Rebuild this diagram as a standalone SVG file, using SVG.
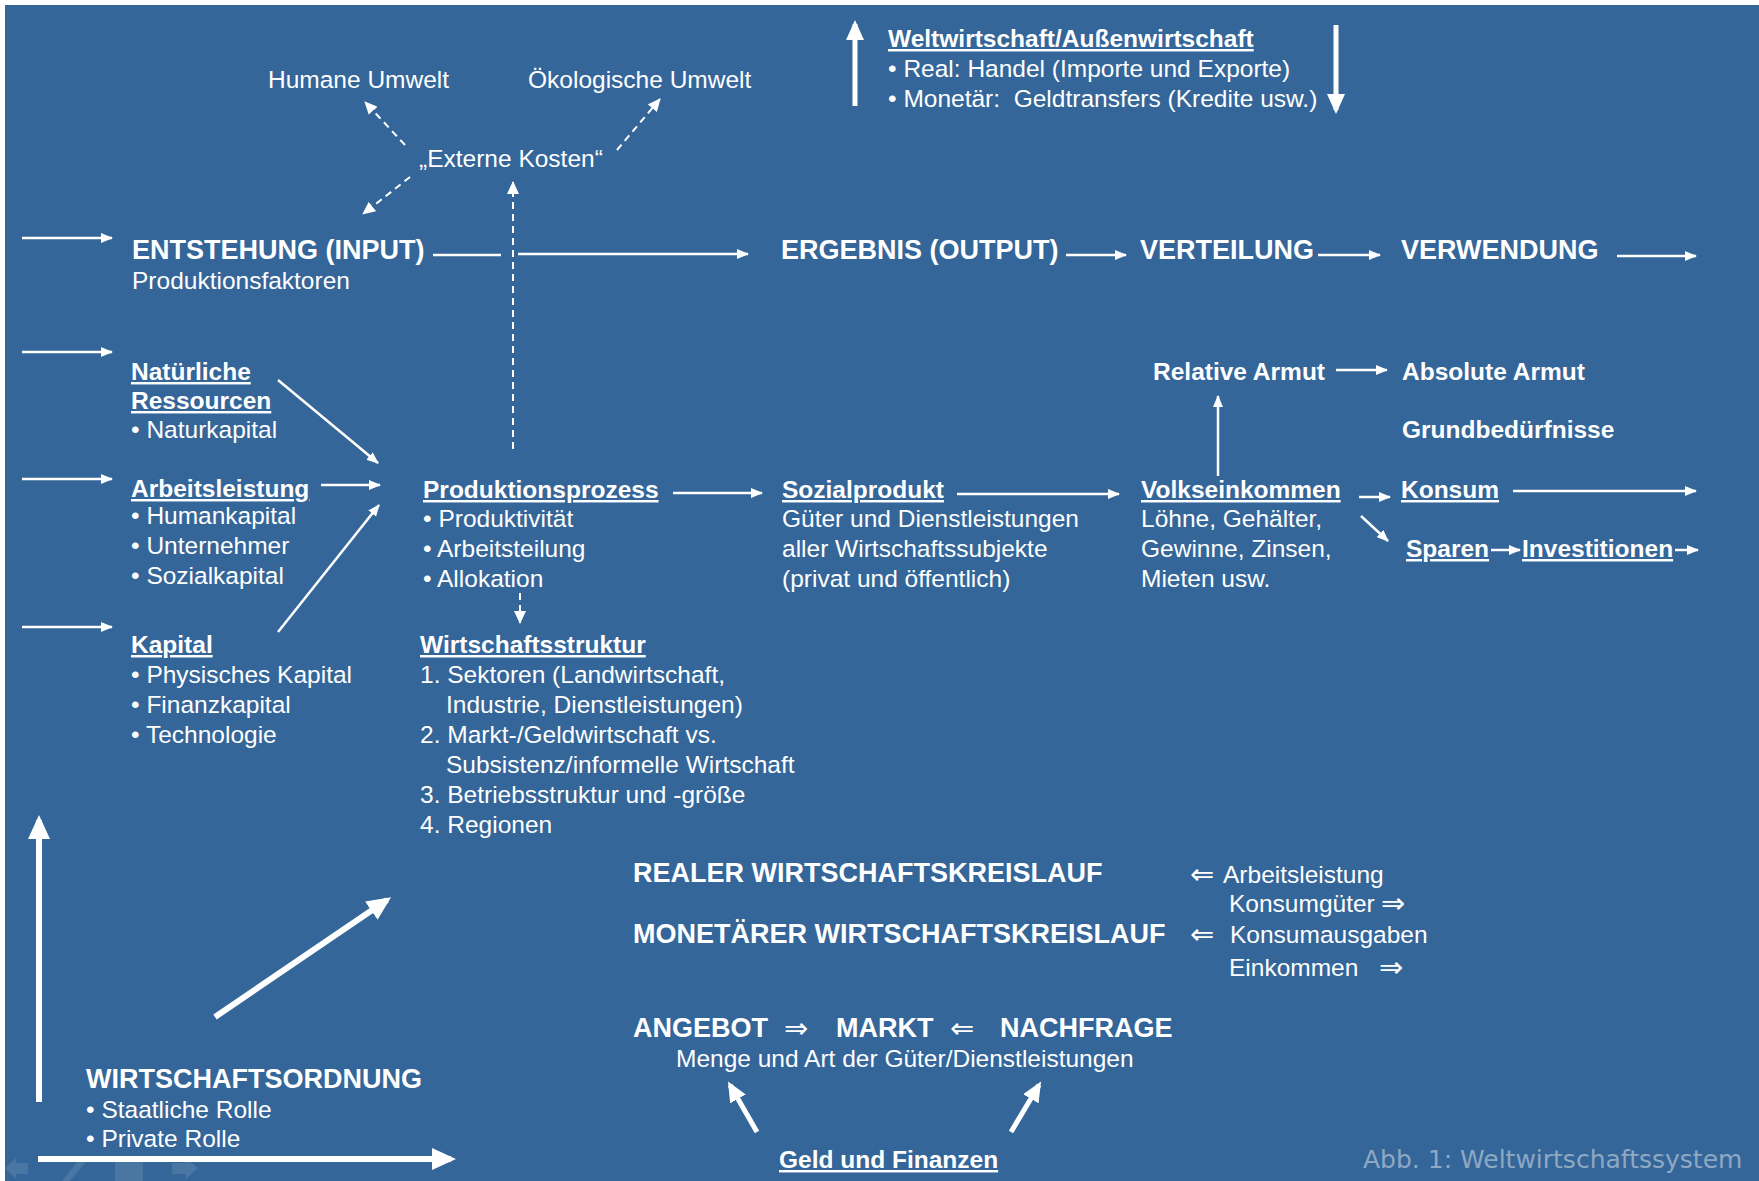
<svg xmlns="http://www.w3.org/2000/svg" width="1759" height="1181" viewBox="0 0 1759 1181">
<defs>
<style>
text{font-family:"Liberation Sans",Arial,"DejaVu Sans",sans-serif;fill:#fff;font-size:24.5px}
.b{font-weight:bold}
.h{font-weight:bold;font-size:27px}
.u{text-decoration:underline}
.sym{font-family:"DejaVu Sans","Liberation Sans",sans-serif;font-size:29px}
.cap{font-family:"DejaVu Sans",sans-serif;font-size:25px;fill:#8fa8c4}
.pre{white-space:pre}
.ln{stroke:#fff;stroke-width:2.5;fill:none}
.dl{stroke:#fff;stroke-width:2;fill:none;stroke-dasharray:7 5}
.tk{stroke:#fff;stroke-width:5;fill:none}
.tk6{stroke:#fff;stroke-width:6;fill:none}
</style>
<marker id="ah" viewBox="0 0 12 10" refX="11" refY="5" markerWidth="12" markerHeight="10" markerUnits="userSpaceOnUse" orient="auto"><path d="M0,0 L12,5 L0,10 z" fill="#fff"/></marker>
<marker id="ahd" viewBox="0 0 13 12" refX="12" refY="6" markerWidth="13" markerHeight="12" markerUnits="userSpaceOnUse" orient="auto"><path d="M0,0 L13,6 L0,12 z" fill="#fff"/></marker>
<marker id="ahb" viewBox="0 0 20 18" refX="16" refY="9" markerWidth="20" markerHeight="18" markerUnits="userSpaceOnUse" orient="auto"><path d="M0,0 L20,9 L0,18 z" fill="#fff"/></marker>
<marker id="ahB" viewBox="0 0 24 22" refX="19" refY="11" markerWidth="24" markerHeight="22" markerUnits="userSpaceOnUse" orient="auto"><path d="M0,0 L24,11 L0,22 z" fill="#fff"/></marker>
</defs>
<rect x="0" y="0" width="1759" height="1181" fill="#ffffff"/>
<rect x="5" y="5" width="1754" height="1176" fill="#346699"/>

<g id="nav-icons" fill="#ffffff" opacity="0.1">
<path d="M5,1168 L16,1158 L16,1163 L28,1163 L28,1174 L16,1174 L16,1179 Z"/>
<path d="M62,1181 L80,1158 L86,1162 L70,1181 Z"/>
<rect x="115" y="1160" width="28" height="21"/>
<path d="M198,1168 L186,1158 L186,1163 L172,1163 L172,1174 L186,1174 L186,1179 Z"/>
</g>

<g id="connectors">
<line class="dl" x1="405" y1="145" x2="365" y2="102" marker-end="url(#ahd)"/>
<line class="dl" x1="617" y1="150" x2="660" y2="99" marker-end="url(#ahd)"/>
<line class="dl" x1="410" y1="177" x2="363" y2="214" marker-end="url(#ahd)"/>
<line class="dl" x1="513" y1="449" x2="513" y2="182" marker-end="url(#ahd)"/>
<line class="tk" x1="855" y1="106" x2="855" y2="24" marker-end="url(#ahb)"/>
<line class="tk" x1="1336" y1="25" x2="1336" y2="110" marker-end="url(#ahb)"/>
<line class="ln" x1="22" y1="238" x2="112" y2="238" marker-end="url(#ah)"/>
<line class="ln" x1="433" y1="255" x2="501" y2="255"/>
<line class="ln" x1="518" y1="254" x2="748" y2="254" marker-end="url(#ah)"/>
<line class="ln" x1="1066" y1="255" x2="1126" y2="255" marker-end="url(#ah)"/>
<line class="ln" x1="1318" y1="255" x2="1380" y2="255" marker-end="url(#ah)"/>
<line class="ln" x1="1617" y1="256" x2="1696" y2="256" marker-end="url(#ah)"/>
<line class="ln" x1="22" y1="352" x2="112" y2="352" marker-end="url(#ah)"/>
<line class="ln" x1="22" y1="479" x2="112" y2="479" marker-end="url(#ah)"/>
<line class="ln" x1="22" y1="627" x2="112" y2="627" marker-end="url(#ah)"/>
<line class="ln" x1="278" y1="380" x2="378" y2="463" marker-end="url(#ah)"/>
<line class="ln" x1="321" y1="485" x2="380" y2="485" marker-end="url(#ah)"/>
<line class="ln" x1="278" y1="632" x2="379" y2="505" marker-end="url(#ah)"/>
<line class="ln" x1="673" y1="493" x2="762" y2="493" marker-end="url(#ah)"/>
<line class="dl" x1="520" y1="593" x2="520" y2="623" marker-end="url(#ahd)"/>
<line class="ln" x1="957" y1="494" x2="1119" y2="494" marker-end="url(#ah)"/>
<line class="ln" x1="1218" y1="476" x2="1218" y2="396" marker-end="url(#ah)"/>
<line class="ln" x1="1336" y1="370" x2="1387" y2="370" marker-end="url(#ah)"/>
<line class="ln" x1="1359" y1="497" x2="1390" y2="497" marker-end="url(#ah)"/>
<line class="ln" x1="1361" y1="516" x2="1388" y2="541" marker-end="url(#ah)"/>
<line class="ln" x1="1513" y1="491" x2="1696" y2="491" marker-end="url(#ah)"/>
<line class="ln" x1="1491" y1="550" x2="1520" y2="550" marker-end="url(#ah)"/>
<line class="ln" x1="1675" y1="550" x2="1698" y2="550" marker-end="url(#ah)"/>
<line class="tk6" x1="39" y1="1102" x2="39" y2="820" marker-end="url(#ahB)"/>
<line class="tk6" x1="38" y1="1159" x2="451" y2="1159" marker-end="url(#ahB)"/>
<line class="tk6" x1="215" y1="1017" x2="387" y2="900" marker-end="url(#ahB)"/>
<line class="tk" x1="757" y1="1132" x2="730" y2="1085" marker-end="url(#ahb)"/>
<line class="tk" x1="1011" y1="1132" x2="1039" y2="1085" marker-end="url(#ahb)"/>
</g>

<g id="humane-umwelt"><text x="268" y="88">Humane Umwelt</text></g>
<g id="oekologische-umwelt"><text x="528" y="88">Ökologische Umwelt</text></g>
<g id="externe-kosten"><text x="419" y="167">„Externe Kosten“</text></g>

<g id="weltwirtschaft">
<text x="888" y="47" class="b u">Weltwirtschaft/Außenwirtschaft</text>
<text x="888" y="77">• Real: Handel (Importe und Exporte)</text>
<text x="888" y="107" class="pre">• Monetär:  Geldtransfers (Kredite usw.)</text>
</g>

<g id="entstehung">
<text x="132" y="259" class="h">ENTSTEHUNG (INPUT)</text>
<text x="132" y="289">Produktionsfaktoren</text>
</g>
<g id="ergebnis"><text x="781" y="259" class="h">ERGEBNIS (OUTPUT)</text></g>
<g id="verteilung"><text x="1140" y="259" class="h">VERTEILUNG</text></g>
<g id="verwendung"><text x="1401" y="259" class="h">VERWENDUNG</text></g>

<g id="natuerliche-ressourcen">
<text x="131" y="380" class="b u">Natürliche</text>
<text x="131" y="409" class="b u">Ressourcen</text>
<text x="131" y="438">• Naturkapital</text>
</g>
<g id="arbeitsleistung">
<text x="131" y="497" class="b u">Arbeitsleistung</text>
<text x="131" y="524">• Humankapital</text>
<text x="131" y="554">• Unternehmer</text>
<text x="131" y="584">• Sozialkapital</text>
</g>
<g id="kapital">
<text x="131" y="653" class="b u">Kapital</text>
<text x="131" y="683">• Physisches Kapital</text>
<text x="131" y="713">• Finanzkapital</text>
<text x="131" y="743">• Technologie</text>
</g>

<g id="produktionsprozess">
<text x="423" y="498" class="b u">Produktionsprozess</text>
<text x="423" y="527">• Produktivität</text>
<text x="423" y="557">• Arbeitsteilung</text>
<text x="423" y="587">• Allokation</text>
</g>
<g id="wirtschaftsstruktur">
<text x="420" y="653" class="b u">Wirtschaftsstruktur</text>
<text x="420" y="683">1. Sektoren (Landwirtschaft,</text>
<text x="446" y="713">Industrie, Dienstleistungen)</text>
<text x="420" y="743">2. Markt-/Geldwirtschaft vs.</text>
<text x="446" y="773">Subsistenz/informelle Wirtschaft</text>
<text x="420" y="803">3. Betriebsstruktur und -größe</text>
<text x="420" y="833">4. Regionen</text>
</g>

<g id="sozialprodukt">
<text x="782" y="498" class="b u">Sozialprodukt</text>
<text x="782" y="527">Güter und Dienstleistungen</text>
<text x="782" y="557">aller Wirtschaftssubjekte</text>
<text x="782" y="587">(privat und öffentlich)</text>
</g>
<g id="volkseinkommen">
<text x="1141" y="498" class="b u">Volkseinkommen</text>
<text x="1141" y="527">Löhne, Gehälter,</text>
<text x="1141" y="557">Gewinne, Zinsen,</text>
<text x="1141" y="587">Mieten usw.</text>
</g>
<g id="relative-armut"><text x="1153" y="380" class="b">Relative Armut</text></g>
<g id="absolute-armut"><text x="1402" y="380" class="b">Absolute Armut</text></g>
<g id="grundbeduerfnisse"><text x="1402" y="438" class="b">Grundbedürfnisse</text></g>
<g id="konsum"><text x="1401" y="498" class="b u">Konsum</text></g>
<g id="sparen"><text x="1406" y="557" class="b u">Sparen</text></g>
<g id="investitionen"><text x="1522" y="557" class="b u">Investitionen</text></g>

<g id="kreislauf">
<text x="633" y="882" class="h">REALER WIRTSCHAFTSKREISLAUF</text>
<text x="1190" y="884" class="sym">⇐</text>
<text x="1223" y="883">Arbeitsleistung</text>
<text x="1229" y="912">Konsumgüter</text>
<text x="1381" y="913" class="sym">⇒</text>
<text x="633" y="943" class="h">MONETÄRER WIRTSCHAFTSKREISLAUF</text>
<text x="1190" y="944" class="sym">⇐</text>
<text x="1230" y="943">Konsumausgaben</text>
<text x="1229" y="976">Einkommen</text>
<text x="1379" y="977" class="sym">⇒</text>
</g>

<g id="markt">
<text x="633" y="1037" class="h">ANGEBOT</text>
<text x="784" y="1038" class="sym">⇒</text>
<text x="836" y="1037" class="h">MARKT</text>
<text x="950" y="1038" class="sym">⇐</text>
<text x="1000" y="1037" class="h">NACHFRAGE</text>
<text x="676" y="1067">Menge und Art der Güter/Dienstleistungen</text>
</g>
<g id="geld-und-finanzen"><text x="779" y="1168" class="b u">Geld und Finanzen</text></g>

<g id="wirtschaftsordnung">
<text x="86" y="1088" class="h">WIRTSCHAFTSORDNUNG</text>
<text x="86" y="1118">• Staatliche Rolle</text>
<text x="86" y="1147">• Private Rolle</text>
</g>

<g id="caption"><text x="1363" y="1168" class="cap">Abb. 1: Weltwirtschaftssystem</text></g>
</svg>
